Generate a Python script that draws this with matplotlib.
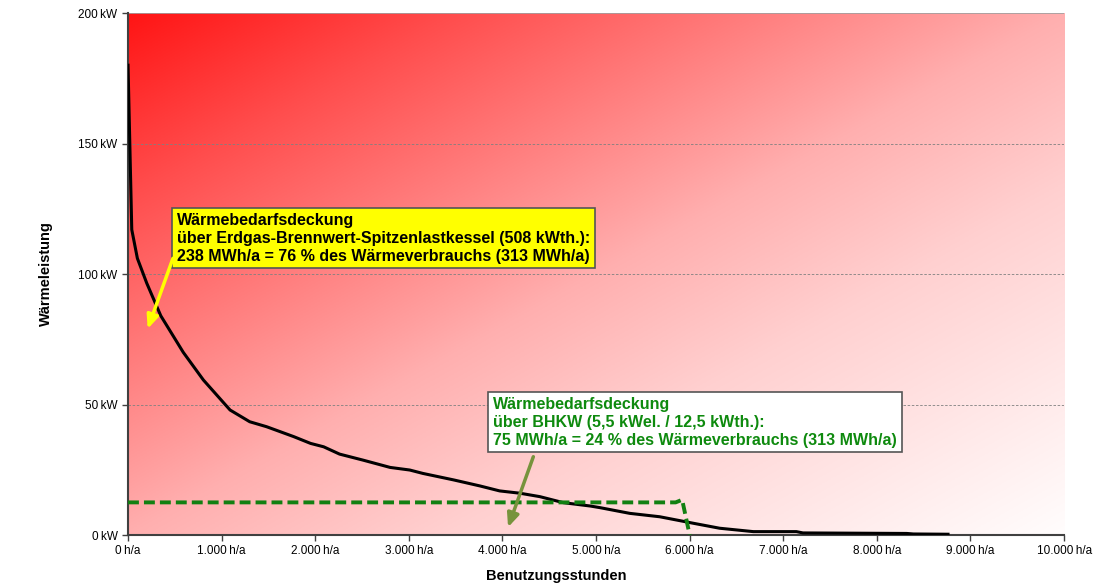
import matplotlib.pyplot as plt
from matplotlib.font_manager import FontProperties
import numpy as np

plt.rcParams['font.family'] = ['Liberation Sans', 'DejaVu Sans']

# Jahresdauerlinie
hours = [0, 40, 100, 200, 350, 590, 805, 1090, 1300, 1480, 1770, 1950, 2090, 2260, 2510,
         2800, 3010, 3150, 3480, 3760, 3970, 4190, 4400, 4650, 4940, 5040, 5360, 5680,
         6040, 6320, 6680, 7140, 7210, 8320, 8390, 8760]
load_kw = [180, 117, 106, 96.5, 84, 70, 59.4, 47.9, 43.4, 41.5, 37.7, 35.1, 33.8, 31, 28.7,
           25.9, 24.9, 23.6, 21.1, 18.8, 16.9, 16.0, 14.7, 12.4, 11.1, 10.5, 8.3, 7.0,
           4.5, 2.6, 1.3, 1.3, 0.8, 0.6, 0.4, 0.3]

# BHKW Grundlast
bhkw_hours = [0, 5850, 5920, 6000]
bhkw_kw = [12.5, 12.5, 13.5, 0]

xticks = list(range(0, 10001, 1000))
yticks = [0, 50, 100, 150, 200]

fig = plt.figure(figsize=(10.97, 5.83), dpi=100)
ax = fig.add_axes([0.1167, 0.0823, 0.8533, 0.8954])

# diagonal red -> white gradient background (top-left to bottom-right)
nx, ny = 400, 200
gx, gy = np.meshgrid(np.linspace(0, 1, nx), np.linspace(0, 1, ny))
t = (gx + gy) / 2
gb = np.interp(t, [0, 0.175, 0.452, 0.5, 0.668, 1.0], [20, 77, 160, 175, 208, 253]) / 255
img = np.dstack([np.ones_like(gb), gb, gb])
ax.imshow(img, extent=[0, 10000, 0, 200], aspect='auto', origin='upper', zorder=0)

for y in [50, 100, 150]:
    ax.axhline(y, color='#808080', lw=0.6, ls=(0, (3, 2)), zorder=1)
ax.axhline(200, color='#a0a0a0', lw=1.2, zorder=1)

ax.plot(hours, load_kw, color='black', lw=2.2, zorder=3)
ax.plot(bhkw_hours, bhkw_kw, color='#128012', lw=2.8, ls=(0, (2.8, 1.3)), zorder=3)

ax.set_xlim(0, 10000)
ax.set_ylim(0, 200)
ax.set_xticks(xticks)
ax.set_xticklabels([f"{v:,}".replace(',', '.') + "\u2009h/a" for v in xticks], fontsize=8.5)
ax.set_yticks(yticks)
ax.set_yticklabels([f"{v}\u2009kW" for v in yticks], fontsize=8.5)
ax.tick_params(direction='out', length=4, width=1, color='#404040')

for s in ['top', 'right']:
    ax.spines[s].set_visible(False)
ax.spines['left'].set_color('#404040')
ax.spines['left'].set_linewidth(1.5)
ax.spines['bottom'].set_color('#404040')
ax.spines['bottom'].set_linewidth(1.5)

ax.set_xlabel("Benutzungsstunden", fontsize=10.5, fontweight='bold')
ax.xaxis.set_label_coords(0.458, -0.065)
ax.set_ylabel("Wärmeleistung", fontsize=10.5, fontweight='bold')
ax.yaxis.set_label_coords(-0.08, 0.5)

boxfont = FontProperties(family='Liberation Sans', weight='bold', size=11.5)

ax.text(520, 123.5, "Wärmebedarfsdeckung\nüber Erdgas-Brennwert-Spitzenlastkessel (508 kWth.):\n"
        "238 MWh/a = 76 % des Wärmeverbrauchs (313 MWh/a)",
        fontproperties=boxfont, color='black', va='top', ha='left', linespacing=1.25,
        bbox=dict(boxstyle='square,pad=0.3', fc='#ffff00', ec='#555555', lw=1.2), zorder=5)
ax.annotate("", xy=(200, 78), xytext=(490, 107),
            arrowprops=dict(arrowstyle='-|>,head_width=0.35,head_length=0.8', color='#ffff00',
                            lw=2.5), zorder=5)

ax.text(3900, 53, "Wärmebedarfsdeckung\nüber BHKW (5,5 kWel. / 12,5 kWth.):\n"
        "75 MWh/a = 24 % des Wärmeverbrauchs (313 MWh/a)",
        fontproperties=boxfont, color='#0e8a0e', va='top', ha='left', linespacing=1.25,
        bbox=dict(boxstyle='square,pad=0.3', fc='white', ec='#555555', lw=1.2), zorder=5)
ax.annotate("", xy=(4050, 2), xytext=(4340, 31),
            arrowprops=dict(arrowstyle='-|>,head_width=0.35,head_length=0.8', color='#77933c',
                            lw=2.5), zorder=5)

fig.savefig("out.png", dpi=100)
